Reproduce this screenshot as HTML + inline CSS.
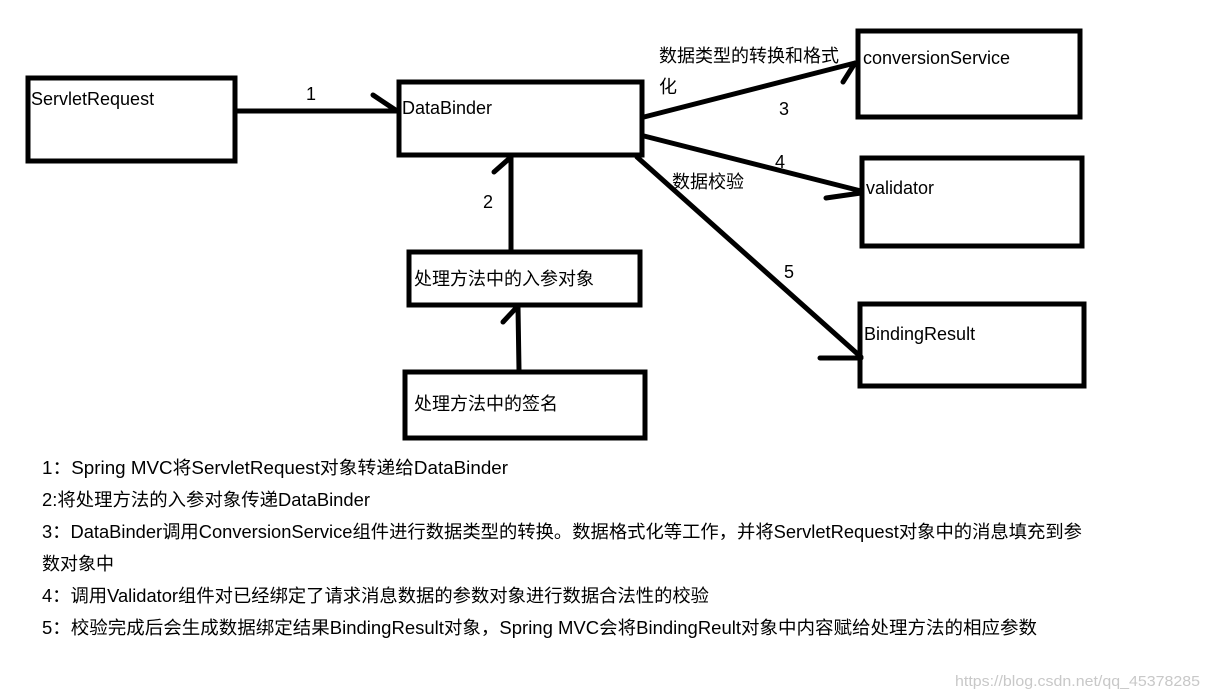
<!DOCTYPE html>
<html><head><meta charset="utf-8"><style>
html,body{margin:0;padding:0;background:#fff;}
svg{display:block;}
text{font-family:"Liberation Sans","Noto Sans CJK SC",sans-serif;font-size:18px;fill:#000;}
</style></head><body>
<svg width="1207" height="699" viewBox="0 0 1207 699" xmlns="http://www.w3.org/2000/svg">
<g fill="none" stroke="#000" stroke-width="5">
<rect x="28" y="78" width="207" height="83"/>
<rect x="399" y="82" width="243" height="73"/>
<rect x="858" y="31" width="222" height="86"/>
<rect x="862" y="158" width="220" height="88"/>
<rect x="860" y="304" width="224" height="82"/>
<rect x="409" y="252" width="231" height="53"/>
<rect x="405" y="372" width="240" height="66"/>
</g>
<g fill="none" stroke="#000" stroke-width="5" stroke-linecap="round">
<path d="M236 111 L397 111 M373 95 L397 111"/>
<path d="M511 250 L511 157 M494 172 L511 157"/>
<path d="M519 370 L518 307 M503 322 L517 307"/>
<path d="M644 117 L855 63 M843 82 L855 63"/>
<path d="M644 136 L861 191 M826 198 L861 193"/>
<path d="M637 157 L861 357 M820 358 L861 358"/>
</g>
<text x="31" y="105">ServletRequest</text>
<text x="402" y="114">DataBinder</text>
<text x="863" y="64">conversionService</text>
<text x="866" y="194">validator</text>
<text x="864" y="340">BindingResult</text>
<text x="414" y="285">处理方法中的入参对象</text>
<text x="414" y="410">处理方法中的签名</text>
<text x="306" y="100">1</text>
<text x="483" y="208">2</text>
<text x="779" y="115">3</text>
<text x="775" y="168">4</text>
<text x="784" y="278">5</text>
<text x="659" y="62">数据类型的转换和格式</text>
<text x="659" y="93">化</text>
<text x="672" y="188">数据校验</text>
<text x="42" y="474" textLength="466" lengthAdjust="spacingAndGlyphs">1：Spring MVC将ServletRequest对象转递给DataBinder</text>
<text x="42" y="506" textLength="328" lengthAdjust="spacingAndGlyphs">2:将处理方法的入参对象传递DataBinder</text>
<text x="42" y="538" textLength="1040" lengthAdjust="spacingAndGlyphs">3：DataBinder调用ConversionService组件进行数据类型的转换。数据格式化等工作，并将ServletRequest对象中的消息填充到参</text>
<text x="42" y="570" textLength="72" lengthAdjust="spacingAndGlyphs">数对象中</text>
<text x="42" y="602" textLength="667" lengthAdjust="spacingAndGlyphs">4：调用Validator组件对已经绑定了请求消息数据的参数对象进行数据合法性的校验</text>
<text x="42" y="634" textLength="995" lengthAdjust="spacingAndGlyphs">5：校验完成后会生成数据绑定结果BindingResult对象，Spring MVC会将BindingReult对象中内容赋给处理方法的相应参数</text>
<text x="955" y="686" style="font-size:15px;fill:#c8c8c8" textLength="245" lengthAdjust="spacingAndGlyphs">https://blog.csdn.net/qq_45378285</text>
</svg>
</body></html>
